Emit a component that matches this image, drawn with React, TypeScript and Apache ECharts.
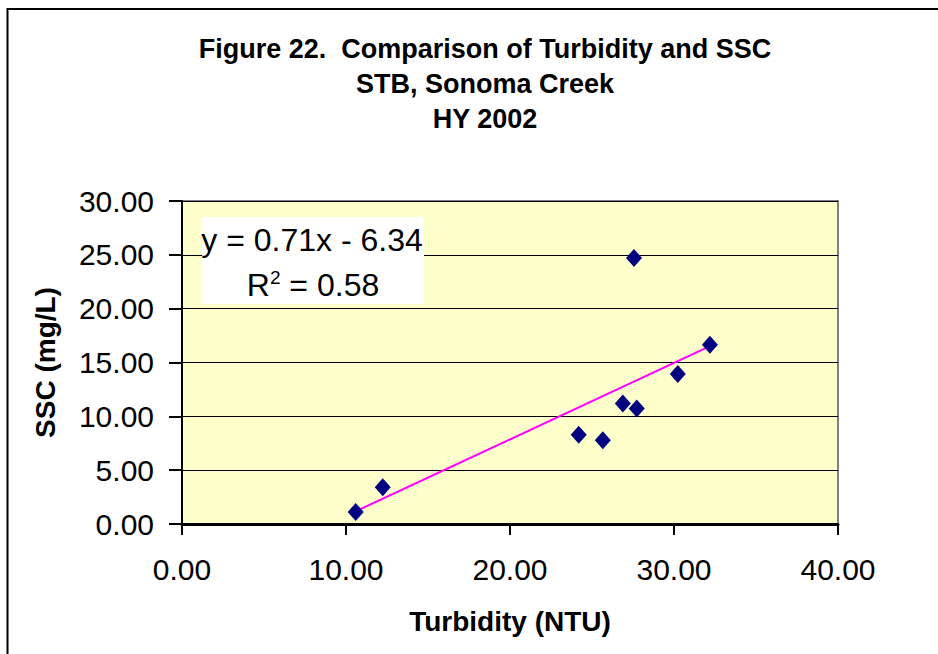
import React, { useEffect, useRef } from "react";
import * as echarts from "echarts";

const turbidity = [10.59, 12.24, 24.19, 25.66, 26.88, 27.73, 27.56, 30.23, 32.19];
const ssc = [1.12, 3.41, 8.30, 7.78, 11.19, 10.72, 24.70, 13.94, 16.64];
const slope = 0.71;
const intercept = -6.34;
const rSquared = 0.58;
const titleLines = ["Figure 22.  Comparison of Turbidity and SSC", "STB, Sonoma Creek", "HY 2002"];

export default function App() {
  const ref = useRef<HTMLDivElement>(null);
  useEffect(() => {
    if (!ref.current) return;
    const chart = echarts.init(ref.current, null, { renderer: "svg" });
    const xMin = Math.min(...turbidity);
    const xMax = Math.max(...turbidity);
    const trend = [
      [xMin, slope * xMin + intercept],
      [xMax, slope * xMax + intercept],
    ];
    const font = "'Liberation Sans', Arial, sans-serif";
    chart.setOption({
      animation: false,
      backgroundColor: "#ffffff",
      textStyle: { fontFamily: font },
      title: {
        text: titleLines.join("\n"),
        left: 480,
        textAlign: "center",
        top: 26,
        textStyle: { fontSize: 27, fontWeight: "bold", color: "#000", lineHeight: 35, fontFamily: font },
      },
      grid: {
        left: 182,
        right: 100,
        top: 201,
        bottom: 130,
        show: true,
        backgroundColor: "#FFFFCC",
        borderColor: "#808080",
        borderWidth: 2,
      },
      xAxis: {
        type: "value",
        min: 0,
        max: 40,
        interval: 10,
        name: "Turbidity (NTU)",
        nameLocation: "middle",
        nameGap: 83,
        nameTextStyle: { fontSize: 28, fontWeight: "bold", color: "#000", fontFamily: font },
        axisLine: { show: true, lineStyle: { color: "#000", width: 3 } },
        axisTick: { show: true, length: 11, inside: false, lineStyle: { color: "#000", width: 2 } },
        axisLabel: { fontSize: 30, color: "#000", margin: 30, formatter: (v: number) => v.toFixed(2), fontFamily: font },
        splitLine: { show: false },
      },
      yAxis: {
        type: "value",
        min: 0,
        max: 30,
        interval: 5,
        name: "SSC (mg/L)",
        nameLocation: "middle",
        nameGap: 123,
        nameTextStyle: { fontSize: 28, fontWeight: "bold", color: "#000", fontFamily: font },
        axisLine: { show: true, lineStyle: { color: "#000", width: 2 } },
        axisTick: { show: true, length: 13, inside: false, lineStyle: { color: "#000", width: 2 } },
        axisLabel: { fontSize: 30, color: "#000", margin: 28, formatter: (v: number) => v.toFixed(2), fontFamily: font },
        splitLine: { show: true, lineStyle: { color: "#000", width: 1 } },
      },
      series: [
        {
          type: "line",
          data: trend,
          showSymbol: false,
          symbol: "none",
          lineStyle: { color: "#FF00FF", width: 2 },
          z: 2,
          silent: true,
        },
        {
          type: "scatter",
          data: turbidity.map((x, i) => [x, ssc[i]]),
          symbol: "diamond",
          symbolSize: [16, 18],
          itemStyle: { color: "#000080", opacity: 1 },
          z: 3,
        },
      ],
      graphic: [
        {
          type: "rect",
          shape: { x: 7.5, y: 9, width: 960, height: 700 },
          style: { fill: "none", stroke: "#000", lineWidth: 2 },
          silent: true,
          z: 10,
        },
        {
          type: "rect",
          shape: { x: 202, y: 217, width: 222, height: 87 },
          style: { fill: "#ffffff" },
          z: 5,
        },
        {
          type: "text",
          x: 312,
          y: 240,
          style: {
            text: `y = ${slope.toFixed(2)}x - ${Math.abs(intercept).toFixed(2)}`,
            font: `32px ${font}`,
            fill: "#000",
            align: "center",
            verticalAlign: "middle",
          },
          z: 6,
        },
        {
          type: "text",
          x: 313,
          y: 285,
          style: {
            text: `R{sup|2} = ${rSquared.toFixed(2)}`,
            fontSize: 32,
            fontFamily: font,
            fill: "#000",
            align: "center",
            verticalAlign: "middle",
            rich: {
              sup: { fontSize: 19, verticalAlign: "top", padding: [0, 0, 15, 0], fontFamily: font },
            },
          },
          z: 6,
        },
      ],
    });
    return () => chart.dispose();
  }, []);
  return <div ref={ref} style={{ width: 938, height: 654, position: "absolute", left: 0, top: 0 }} />;
}
